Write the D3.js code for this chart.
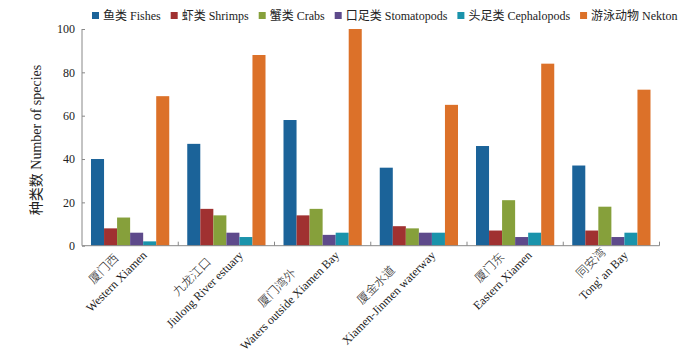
<!DOCTYPE html>
<html>
<head>
<meta charset="utf-8">
<script src="https://cdn.jsdelivr.net/npm/d3@7"></script>
<style>
html,body{margin:0;padding:0;background:#fff;}
svg{display:block;}
text{font-family:"Liberation Serif","Noto Sans CJK SC",serif;fill:#222;}
</style>
</head>
<body>
<svg id="chart" width="700" height="356"></svg>
<script>
const categoriesZh = ["厦门西","九龙江口","厦门湾外","厦金水道","厦门东","同安湾"];
const categoriesEn = ["Western Xiamen","Jiulong River estuary","Waters outside Xiamen Bay","Xiamen-Jinmen waterway","Eastern Xiamen","Tong' an Bay"];
const seriesNames = ["鱼类 Fishes","虾类 Shrimps","蟹类 Crabs","口足类 Stomatopods","头足类 Cephalopods","游泳动物 Nekton"];
const fishes = [40,47,58,36,46,37];
const shrimps = [8,17,14,9,7,7];
const crabs = [13,14,17,8,21,18];
const stomatopods = [6,6,5,6,4,4];
const cephalopods = [2,4,6,6,6,6];
const nekton = [69,88,100,65,84,72];
const yTicks = [0,20,40,60,80,100];
const colors = ["#1b6399","#a03131","#86a03b","#5e4a8b","#1a93ab","#dc7129"];
const yTitle = "种类数 Number of species";

const seriesValues = [fishes,shrimps,crabs,stomatopods,cephalopods,nekton];

const svg = d3.select("#chart");
const mLeft = 82, mRight = 659.5, mTop = 29, mBottom = 245.7;

const x0 = d3.scaleBand().domain(categoriesEn).range([mLeft,mRight]).paddingInner(0.187).paddingOuter(0.0935);
const x1 = d3.scaleBand().domain(seriesNames).range([0,x0.bandwidth()]).padding(0);
const y = d3.scaleLinear().domain([0,100]).range([mBottom,mTop]);

// bars
const groups = svg.append("g").selectAll("g").data(categoriesEn).join("g")
  .attr("transform", d => `translate(${x0(d)},0)`);
groups.selectAll("rect").data((d,i) => seriesNames.map((s,j) => ({s, v: seriesValues[j][i], j})))
  .join("rect")
  .attr("x", d => x1(d.s))
  .attr("y", d => y(d.v))
  .attr("width", x1.bandwidth())
  .attr("height", d => y(0) - y(d.v))
  .attr("fill", d => colors[d.j]);

// y axis
const yAxis = d3.axisLeft(y).tickValues(yTicks).tickSize(-3).tickPadding(7).tickFormat(d3.format("d"));
const gy = svg.append("g").attr("transform", `translate(${mLeft},0)`).call(yAxis);
gy.select(".domain").attr("stroke","#888").attr("d", `M0,${mTop}V${mBottom}`);
gy.selectAll(".tick line").attr("stroke","#888");
gy.selectAll(".tick text").style("font-size","12px").attr("fill","#222")
  .style("font-family","'Liberation Serif',serif");

// x axis with boundary ticks
const boundaries = d3.range(categoriesEn.length + 1).map(i => mLeft + i * (mRight-mLeft)/categoriesEn.length);
const gx = svg.append("g");
gx.append("line").attr("x1",mLeft).attr("x2",mRight).attr("y1",mBottom).attr("y2",mBottom).attr("stroke","#888");
gx.selectAll("line.t").data(boundaries.slice(1)).join("line").attr("class","t")
  .attr("x1", d=>d).attr("x2", d=>d).attr("y1", mBottom).attr("y2", mBottom-4).attr("stroke","#888");

// category labels
const labG = svg.append("g");
categoriesEn.forEach((en,i) => {
  const cx = x0(en) + x0.bandwidth()/2;
  const g = labG.append("g").attr("transform", `translate(${cx-1},${mBottom-8}) rotate(-45)`);
  const tEn = g.append("text").text(en).style("font-size","12px").attr("y", 26);
  const tZh = g.append("text").text(categoriesZh[i]).style("font-size","12px").attr("y", 8)
    .style("font-family","'Noto Sans CJK SC',sans-serif").style("font-weight","300").attr("fill","#555");
  const w = Math.max(tEn.node().getComputedTextLength(), tZh.node().getComputedTextLength());
  tEn.attr("text-anchor","middle").attr("x", -w/2);
  tZh.attr("text-anchor","middle").attr("x", -w/2);
});

// y title
svg.append("text").attr("transform","translate(41,140) rotate(-90)")
  .attr("text-anchor","middle").style("font-size","14px").attr("fill","#444").text(yTitle);

// legend
const leg = svg.append("g").attr("transform","translate(92,16)");
let lx = 0;
seriesNames.forEach((s,j) => {
  const it = leg.append("g").attr("transform", `translate(${lx},0)`);
  it.append("rect").attr("x",0).attr("y",-4).attr("width",7).attr("height",7).attr("fill",colors[j]);
  const t = it.append("text").attr("x",11).attr("y",4).style("font-size","12px").attr("fill","#333").text(s);
  lx += 11 + t.node().getComputedTextLength() + 10;
});
</script>
</body>
</html>
